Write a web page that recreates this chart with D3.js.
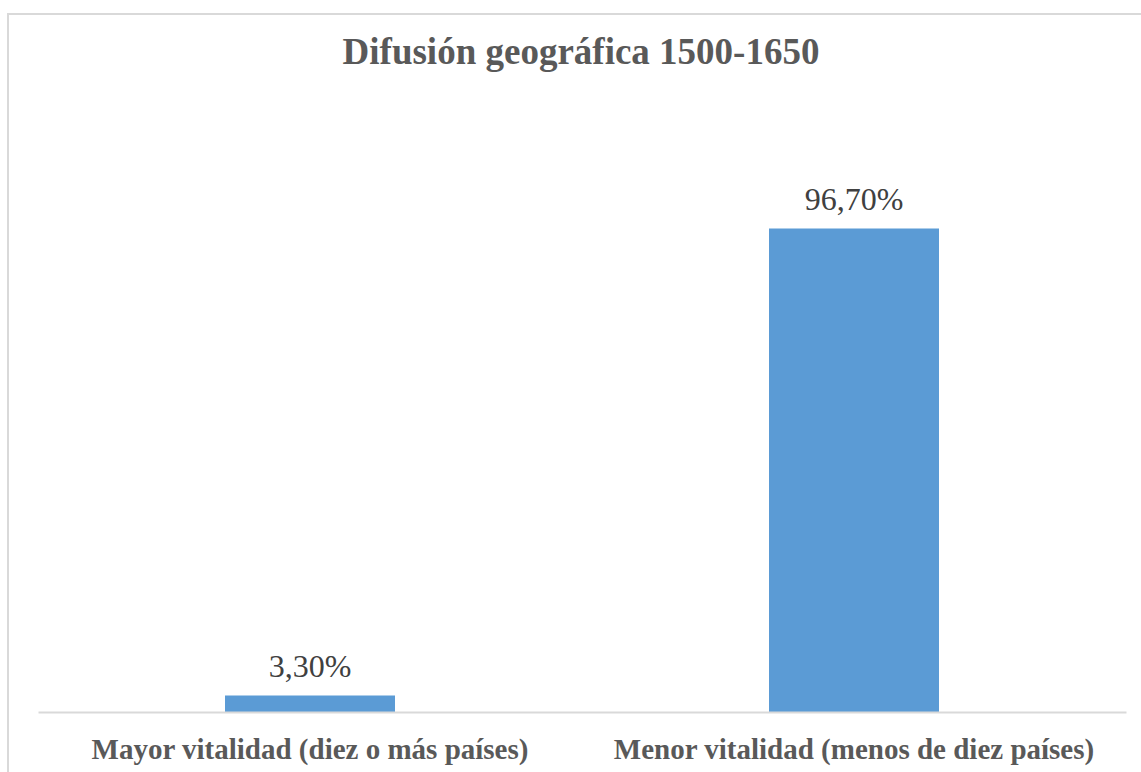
<!DOCTYPE html>
<html>
<head>
<meta charset="utf-8">
<script src="https://cdn.jsdelivr.net/npm/d3@7"></script>
<style>
  html, body { margin: 0; padding: 0; background: #fff; overflow: hidden; }
  svg { display: block; }
  text { font-family: "Liberation Serif", "Times New Roman", serif; }
</style>
</head>
<body>
<svg id="chart" width="1141" height="772"></svg>
<script>
const chartTitle = "Difusión geográfica 1500-1650";
const categories = ["Mayor vitalidad (diez o más países)", "Menor vitalidad (menos de diez países)"];
const values = [0.033, 0.967];
const valueLabels = ["3,30%", "96,70%"];

const svg = d3.select("#chart");
const W = 1141, H = 772;
const plot = {left: 38, right: 1126, top: 212, bottom: 712};

// chart frame, cropped on right and bottom like the source
svg.append("rect")
  .attr("x", 8).attr("y", 14)
  .attr("width", W + 20).attr("height", H + 20)
  .attr("fill", "#fff")
  .attr("stroke", "#d9d9d9")
  .attr("stroke-width", 2);

const x = d3.scaleBand()
  .domain(categories)
  .range([plot.left, plot.right])
  .paddingInner(0.6875)
  .paddingOuter(0.34375);

const y = d3.scaleLinear()
  .domain([0, 1])
  .range([plot.bottom, plot.top]);

svg.append("text")
  .attr("x", 581).attr("y", 64)
  .attr("text-anchor", "middle")
  .attr("font-weight", "bold")
  .attr("font-size", 37)
  .attr("fill", "#595959")
  .text(chartTitle);

const data = categories.map((c, i) => ({cat: c, v: values[i], label: valueLabels[i]}));

svg.selectAll("rect.bar")
  .data(data)
  .enter().append("rect")
  .attr("class", "bar")
  .attr("x", d => x(d.cat))
  .attr("y", d => y(d.v))
  .attr("width", x.bandwidth())
  .attr("height", d => y(0) - y(d.v))
  .attr("fill", "#5b9bd5");

svg.selectAll("text.val")
  .data(data)
  .enter().append("text")
  .attr("class", "val")
  .attr("x", d => x(d.cat) + x.bandwidth() / 2)
  .attr("y", d => y(d.v) - 19)
  .attr("text-anchor", "middle")
  .attr("font-size", 32)
  .attr("fill", "#404040")
  .text(d => d.label);

const xAxis = svg.append("g")
  .attr("transform", `translate(0,${plot.bottom})`)
  .call(d3.axisBottom(x).tickSize(0).tickPadding(26));

xAxis.select(".domain")
  .attr("stroke", "#d9d9d9")
  .attr("stroke-width", 2);

xAxis.selectAll("text")
  .attr("font-family", null)
  .attr("font-weight", "bold")
  .attr("font-size", 29)
  .attr("fill", "#595959");
</script>
</body>
</html>
